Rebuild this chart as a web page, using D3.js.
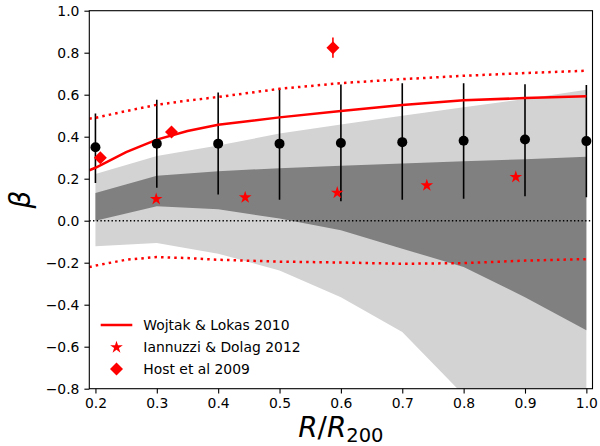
<!DOCTYPE html>
<html>
<head>
<meta charset="utf-8">
<script src="https://cdn.jsdelivr.net/npm/d3@7"></script>
<style>
  body { margin: 0; background: #fff; }
  svg { display: block; }
  text { font-family: "DejaVu Sans", sans-serif; }
</style>
</head>
<body>
<svg id="chart" width="600" height="446"></svg>
<script>
// ---------- data ----------
const radii     = [0.2, 0.3, 0.4, 0.5, 0.6, 0.7, 0.8, 0.9, 1.0];
const betaMean  = [0.350, 0.367, 0.367, 0.367, 0.370, 0.374, 0.381, 0.387, 0.379];
const betaLo    = [0.180, 0.157, 0.125, 0.100, 0.093, 0.100, 0.105, 0.117, 0.112];
const betaHi    = [0.510, 0.576, 0.610, 0.627, 0.649, 0.655, 0.655, 0.650, 0.646];

const lightHi   = [0.222, 0.308, 0.358, 0.415, 0.458, 0.500, 0.540, 0.580, 0.624];
const lightLo   = [-0.122, -0.106, -0.157, -0.237, -0.364, -0.530, -0.830, -1.100, -1.400];
const darkHi    = [0.132, 0.214, 0.236, 0.250, 0.262, 0.272, 0.283, 0.293, 0.304];
const darkLo    = [0.000, 0.069, 0.054, 0.010, -0.046, -0.133, -0.221, -0.364, -0.522];

const wlX   = [0.19, 0.2, 0.25, 0.3, 0.35, 0.4, 0.5, 0.6, 0.7, 0.8, 0.9, 1.0];
const wlMid = [0.240, 0.252, 0.327, 0.386, 0.427, 0.457, 0.492, 0.522, 0.551, 0.573, 0.584, 0.593];
const wlHi  = [0.486, 0.490, 0.522, 0.552, 0.572, 0.589, 0.628, 0.655, 0.674, 0.690, 0.703, 0.714];
const wlLo  = [-0.221, -0.214, -0.186, -0.173, -0.178, -0.186, -0.195, -0.199, -0.205, -0.202, -0.190, -0.183];

const idX = [0.299, 0.444, 0.594, 0.740, 0.885];
const idY = [0.103, 0.111, 0.133, 0.168, 0.208];

const hoX   = [0.208, 0.324, 0.587];
const hoY   = [0.300, 0.422, 0.824];
const hoErr = [0.0, 0.0, 0.048];

const xTicks = [0.2, 0.3, 0.4, 0.5, 0.6, 0.7, 0.8, 0.9, 1.0];
const yTicks = [-0.8, -0.6, -0.4, -0.2, 0.0, 0.2, 0.4, 0.6, 0.8, 1.0];

const legendLabels = ["Wojtak & Lokas 2010", "Iannuzzi & Dolag 2012", "Host et al 2009"];

// ---------- layout ----------
const L = 89.3, R = 592.5, T = 10.7, B = 388.7;
const svg = d3.select("#chart");
const x = d3.scaleLinear().domain([0.19, 1.01]).range([L, R]);
const y = d3.scaleLinear().domain([-0.8, 1.0]).range([B, T]);

svg.append("defs").append("clipPath").attr("id", "clip")
  .append("rect").attr("x", L).attr("y", T).attr("width", R - L).attr("height", B - T);

const plot = svg.append("g").attr("clip-path", "url(#clip)");

// bands
const bandArea = (lo, hi) => d3.area()
  .x((d, i) => x(radii[i])).y0((d, i) => y(lo[i])).y1((d, i) => y(hi[i]))(radii);
plot.append("path").attr("d", bandArea(lightLo, lightHi)).attr("fill", "#d3d3d3");
plot.append("path").attr("d", bandArea(darkLo, darkHi)).attr("fill", "#808080");

// zero line
plot.append("line").attr("x1", L).attr("x2", R).attr("y1", y(0)).attr("y2", y(0))
  .attr("stroke", "#000").attr("stroke-width", 1.4).attr("stroke-dasharray", "1.4,2.3");

// error bars
radii.forEach((r, i) => {
  plot.append("line").attr("x1", x(r)).attr("x2", x(r))
    .attr("y1", y(betaLo[i])).attr("y2", y(betaHi[i]))
    .attr("stroke", "#000").attr("stroke-width", 1.6);
});

// Wojtak lines
const wl = arr => d3.line().x((d, i) => x(wlX[i])).y((d, i) => y(arr[i]))(wlX);
plot.append("path").attr("d", wl(wlMid)).attr("fill", "none")
  .attr("stroke", "#ff0000").attr("stroke-width", 2.5);
[wlHi, wlLo].forEach(a => plot.append("path").attr("d", wl(a)).attr("fill", "none")
  .attr("stroke", "#ff0000").attr("stroke-width", 2.5).attr("stroke-dasharray", "2.5,4.1"));

// points
plot.selectAll("circle.pt").data(radii).enter().append("circle")
  .attr("cx", d => x(d)).attr("cy", (d, i) => y(betaMean[i])).attr("r", 5)
  .attr("fill", "#000");

// stars
const star = d3.symbol().type(d3.symbolStar).size(50);
plot.selectAll("path.star").data(idX).enter().append("path")
  .attr("d", star).attr("fill", "#ff0000")
  .attr("transform", (d, i) => `translate(${x(d)},${y(idY[i])})`);

// diamonds
const diamondPath = s => `M0,${-s}L${s},0L0,${s}L${-s},0Z`;
hoX.forEach((d, i) => {
  if (hoErr[i] > 0) {
    plot.append("line").attr("x1", x(d)).attr("x2", x(d))
      .attr("y1", y(hoY[i] - hoErr[i])).attr("y2", y(hoY[i] + hoErr[i]))
      .attr("stroke", "#ff0000").attr("stroke-width", 1.6);
  }
  plot.append("path").attr("d", diamondPath(6.5)).attr("fill", "#ff0000")
    .attr("transform", `translate(${x(d)},${y(hoY[i])})`);
});

// axes
const fmt = v => (v < 0 ? "\u2212" : "") + Math.abs(v).toFixed(1);
const xAxis = svg.append("g").attr("transform", `translate(0,${B})`)
  .call(d3.axisBottom(x).tickValues(xTicks).tickFormat(fmt).tickSize(4.9).tickPadding(5));
const yAxis = svg.append("g").attr("transform", `translate(${L},0)`)
  .call(d3.axisLeft(y).tickValues(yTicks).tickFormat(fmt).tickSize(4.9).tickPadding(5));
[xAxis, yAxis].forEach(g => {
  g.select(".domain").remove();
  g.selectAll(".tick line").attr("stroke", "#000").attr("stroke-width", 1.1);
  g.selectAll(".tick text").attr("font-size", "13.9px").attr("fill", "#000")
    .attr("font-family", "DejaVu Sans");
});

// frame
svg.append("rect").attr("x", L).attr("y", T).attr("width", R - L).attr("height", B - T)
  .attr("fill", "none").attr("stroke", "#000").attr("stroke-width", 1.1);

// axis labels
const xl = svg.append("text").attr("x", (L + R) / 2).attr("y", 437)
  .attr("text-anchor", "middle").attr("font-size", "27.8px").attr("fill", "#000");
xl.append("tspan").attr("font-style", "italic").text("R");
xl.append("tspan").text("/");
xl.append("tspan").attr("font-style", "italic").text("R");
xl.append("tspan").attr("font-size", "19.5px").attr("dy", "5").text("200");

svg.append("text").attr("transform", `translate(30,${(T + B) / 2}) rotate(-90)`)
  .attr("text-anchor", "middle").attr("font-size", "27.8px").attr("font-style", "italic")
  .attr("fill", "#000").text("\u03b2");

// legend
const lg = svg.append("g");
const rowY = [325, 347.3, 369];
lg.append("line").attr("x1", 100.7).attr("x2", 132.3).attr("y1", rowY[0]).attr("y2", rowY[0])
  .attr("stroke", "#ff0000").attr("stroke-width", 2.5);
lg.append("path").attr("d", star).attr("fill", "#ff0000")
  .attr("transform", `translate(116.5,${rowY[1]})`);
lg.append("path").attr("d", diamondPath(6.5)).attr("fill", "#ff0000")
  .attr("transform", `translate(116.5,${rowY[2]})`);
legendLabels.forEach((t, i) => {
  lg.append("text").attr("x", 143.3).attr("y", rowY[i]).attr("dy", "0.35em")
    .attr("font-size", "13.9px").attr("fill", "#000").text(t);
});
</script>
</body>
</html>
